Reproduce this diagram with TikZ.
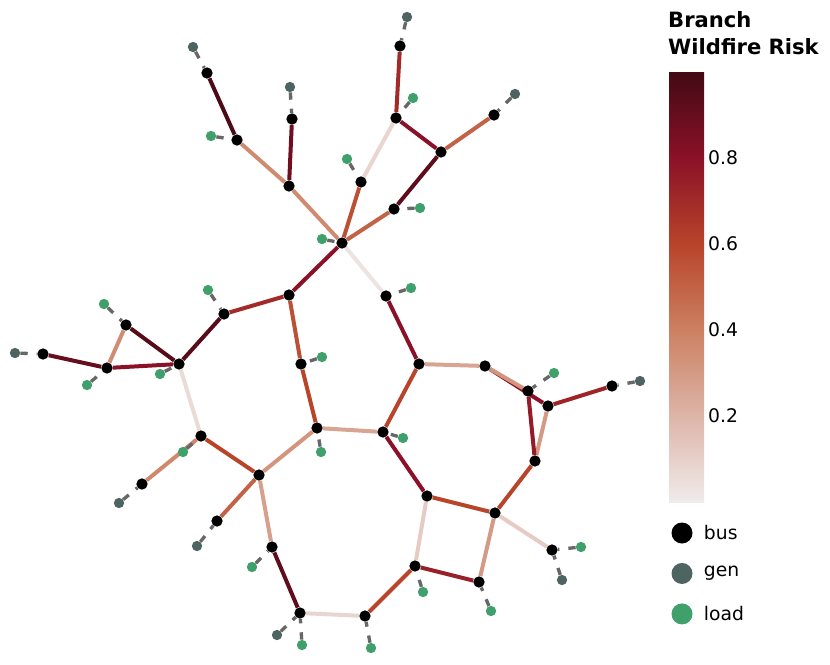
\documentclass[tikz,border=0pt]{standalone}
\usepackage{fontspec}
\setmainfont{DejaVu Sans}
\usepackage{xcolor}
\usepackage{tikz}
\usetikzlibrary{positioning}
\definecolor{rk0}{HTML}{F0EBEB}
\definecolor{rk2}{HTML}{DDB5A8}
\definecolor{rk4}{HTML}{CC8062}
\definecolor{rk6}{HTML}{B8442A}
\definecolor{rk8}{HTML}{8B1128}
\definecolor{rk10}{HTML}{420A14}
\definecolor{gencol}{HTML}{4E6462}
\definecolor{loadcol}{HTML}{3FA06B}
\definecolor{tiecol}{HTML}{676767}
\pgfdeclarelayer{bg}
\pgfsetlayers{bg,main}

\begin{document}
\begin{tikzpicture}[
    x=0.03cm, y=-0.03cm,
    busnode/.style={circle, fill=black, inner sep=0pt, minimum size=0.34cm},
    gennode/.style={circle, fill=gencol, inner sep=0pt, minimum size=0.31cm},
    loadnode/.style={circle, fill=loadcol, inner sep=0pt, minimum size=0.31cm},
    brline/.style={line width=0.12cm},
    tieline/.style={line width=0.1cm, color=tiecol, dash pattern=on 0.22cm off 0.27cm},
    ticklbl/.style={font=\fontsize{16}{19}\selectfont, anchor=west, inner sep=0pt},
    keyitem/.style={circle, inner sep=0pt, minimum size=0.63cm},
    keylbl/.style={font=\fontsize{16}{19}\selectfont, inner sep=0pt}
]
\useasboundingbox (0,0) rectangle (830,665);

\node[busnode] (b1) at (207,73) {};
\node[busnode] (b2) at (237,140) {};
\node[busnode] (b3) at (292,119) {};
\node[busnode] (b4) at (289,186) {};
\node[busnode] (b5) at (289,295) {};
\node[busnode] (b6) at (224,314) {};
\node[busnode] (b7) at (126,325) {};
\node[busnode] (b8) at (400,46) {};
\node[busnode] (b9) at (396,118) {};
\node[busnode] (b10) at (441,152) {};
\node[busnode] (b11) at (494,115) {};
\node[busnode] (b12) at (361,182) {};
\node[busnode] (b13) at (394,209) {};
\node[busnode] (b14) at (342,243) {};
\node[busnode] (b15) at (386,296) {};
\node[busnode] (b16) at (43,354) {};
\node[busnode] (b17) at (107,368) {};
\node[busnode] (b18) at (179,364) {};
\node[busnode] (b19) at (301,364) {};
\node[busnode] (b20) at (317,428) {};
\node[busnode] (b21) at (201,436) {};
\node[busnode] (b22) at (142,484) {};
\node[busnode] (b23) at (259,475) {};
\node[busnode] (b24) at (217,521) {};
\node[busnode] (b25) at (272,547) {};
\node[busnode] (b26) at (300,613) {};
\node[busnode] (b27) at (419,364) {};
\node[busnode] (b28) at (485,366) {};
\node[busnode] (b29) at (528,391) {};
\node[busnode] (b30) at (548,406) {};
\node[busnode] (b31) at (612,386) {};
\node[busnode] (b32) at (535,461) {};
\node[busnode] (b33) at (383,432) {};
\node[busnode] (b34) at (427,496) {};
\node[busnode] (b35) at (495,513) {};
\node[busnode] (b36) at (552,550) {};
\node[busnode] (b37) at (415,566) {};
\node[busnode] (b38) at (479,582) {};
\node[busnode] (b39) at (365,616) {};

\node[gennode] (g1) at (193,47) {};
\node[gennode] (g2) at (290,87) {};
\node[gennode] (g3) at (407,17) {};
\node[gennode] (g4) at (515,94) {};
\node[gennode] (g5) at (15,353) {};
\node[gennode] (g6) at (119,503) {};
\node[gennode] (g7) at (197,546) {};
\node[gennode] (g8) at (277,635) {};
\node[gennode] (g9) at (640,381) {};
\node[gennode] (g10) at (562,580) {};

\node[loadnode] (l1) at (211,136) {};
\node[loadnode] (l2) at (208,290) {};
\node[loadnode] (l3) at (104,304) {};
\node[loadnode] (l4) at (322,239) {};
\node[loadnode] (l5) at (347,159) {};
\node[loadnode] (l6) at (413,98) {};
\node[loadnode] (l7) at (420,208) {};
\node[loadnode] (l8) at (411,288) {};
\node[loadnode] (l9) at (87,385) {};
\node[loadnode] (l10) at (160,374) {};
\node[loadnode] (l11) at (322,357) {};
\node[loadnode] (l12) at (321,452) {};
\node[loadnode] (l13) at (183,452) {};
\node[loadnode] (l14) at (252,567) {};
\node[loadnode] (l15) at (302,645) {};
\node[loadnode] (l16) at (554,373) {};
\node[loadnode] (l17) at (403,438) {};
\node[loadnode] (l18) at (581,547) {};
\node[loadnode] (l19) at (423,592) {};
\node[loadnode] (l20) at (491,611) {};
\node[loadnode] (l21) at (371,648) {};

\begin{pgfonlayer}{bg}
\draw[brline, color=rk10!85!rk8] (b1) -- (b2);
\draw[brline, color=rk4!80!rk2] (b2) -- (b4);
\draw[brline, color=rk8!60!rk10] (b3) -- (b4);
\draw[brline, color=rk4!80!rk2] (b4) -- (b14);
\draw[brline, color=rk8] (b14) -- (b5);
\draw[brline, color=rk8!50!rk6] (b5) -- (b6);
\draw[brline, color=rk10!70!rk8] (b6) -- (b18);
\draw[brline, color=rk10!70!rk8] (b7) -- (b18);
\draw[brline, color=rk4!75!rk2] (b7) -- (b17);
\draw[brline, color=rk8] (b17) -- (b18);
\draw[brline, color=rk8!50!rk10] (b16) -- (b17);
\draw[brline, color=rk2!30!rk0] (b18) -- (b21);
\draw[brline, color=rk6] (b21) -- (b23);
\draw[brline, color=rk4!85!rk2] (b21) -- (b22);
\draw[brline, color=rk4!60!rk2] (b23) -- (b20);
\draw[brline, color=rk6!50!rk4] (b23) -- (b24);
\draw[brline, color=rk4!40!rk2] (b23) -- (b25);
\draw[brline, color=rk10!60!rk8] (b25) -- (b26);
\draw[brline, color=rk2!40!rk0] (b26) -- (b39);
\draw[brline, color=rk6] (b39) -- (b37);
\draw[brline, color=rk2!60!rk0] (b37) -- (b34);
\draw[brline, color=rk8!70!rk6] (b37) -- (b38);
\draw[brline, color=rk4!50!rk2] (b38) -- (b35);
\draw[brline, color=rk6] (b34) -- (b35);
\draw[brline, color=rk2!60!rk0] (b35) -- (b36);
\draw[brline, color=rk6] (b35) -- (b32);
\draw[brline, color=rk4!50!rk2] (b32) -- (b30);
\draw[brline, color=rk8!80!rk6] (b32) -- (b29);
\draw[brline, color=rk8] (b28) -- (b30);
\draw[brline, color=rk4!60!rk2] (b28) -- (b29);
\draw[brline, color=rk6!40!rk8] (b30) -- (b31);
\draw[brline, color=rk2!70!rk4] (b27) -- (b28);
\draw[brline, color=rk6] (b27) -- (b33);
\draw[brline, color=rk8] (b27) -- (b15);
\draw[brline, color=rk2!70!rk4] (b33) -- (b20);
\draw[brline, color=rk8] (b33) -- (b34);
\draw[brline, color=rk6] (b19) -- (b20);
\draw[brline, color=rk6!80!rk4] (b19) -- (b5);
\draw[brline, color=rk0!85!rk2] (b14) -- (b15);
\draw[brline, color=rk6!80!rk4] (b14) -- (b12);
\draw[brline, color=rk2!40!rk0] (b12) -- (b9);
\draw[brline, color=rk6!50!rk4] (b14) -- (b13);
\draw[brline, color=rk10!60!rk8] (b13) -- (b10);
\draw[brline, color=rk8] (b9) -- (b10);
\draw[brline, color=rk8!50!rk6] (b8) -- (b9);
\draw[brline, color=rk6!50!rk4] (b10) -- (b11);

\draw[tieline] (g1) -- (b1);
\draw[tieline] (g2) -- (b3);
\draw[tieline] (g3) -- (b8);
\draw[tieline] (g4) -- (b11);
\draw[tieline] (g5) -- (b16);
\draw[tieline] (g6) -- (b22);
\draw[tieline] (g7) -- (b24);
\draw[tieline] (g8) -- (b26);
\draw[tieline] (g9) -- (b31);
\draw[tieline] (g10) -- (b36);
\draw[tieline] (l1) -- (b2);
\draw[tieline] (l2) -- (b6);
\draw[tieline] (l3) -- (b7);
\draw[tieline] (l4) -- (b14);
\draw[tieline] (l5) -- (b12);
\draw[tieline] (l6) -- (b9);
\draw[tieline] (l7) -- (b13);
\draw[tieline] (l8) -- (b15);
\draw[tieline] (l9) -- (b17);
\draw[tieline] (l10) -- (b18);
\draw[tieline] (l11) -- (b19);
\draw[tieline] (l12) -- (b20);
\draw[tieline] (l13) -- (b21);
\draw[tieline] (l14) -- (b25);
\draw[tieline] (l15) -- (b26);
\draw[tieline] (l16) -- (b29);
\draw[tieline] (l17) -- (b33);
\draw[tieline] (l18) -- (b36);
\draw[tieline] (l19) -- (b37);
\draw[tieline] (l20) -- (b38);
\draw[tieline] (l21) -- (b39);
\end{pgfonlayer}

\node[anchor=north west, align=left, inner sep=0pt,
    font=\fontsize{18}{23}\selectfont\bfseries] (title) at (668,11) {Branch\\Wildfire Risk};
\shade[bottom color=rk0, top color=rk2] (669,502) rectangle (704,416);
\shade[bottom color=rk2, top color=rk4] (669,416) rectangle (704,330);
\shade[bottom color=rk4, top color=rk6] (669,330) rectangle (704,244);
\shade[bottom color=rk6, top color=rk8] (669,244) rectangle (704,158);
\shade[bottom color=rk8, top color=rk10] (669,158) rectangle (704,72);
\node[ticklbl] (t8) at (708,158) {0.8};
\node[ticklbl] (t6) at (708,244) {0.6};
\node[ticklbl] (t4) at (708,330) {0.4};
\node[ticklbl] (t2) at (708,416) {0.2};

\node[keyitem, fill=black] (kbus) at (682,533) {};
\node[keyitem, fill=gencol, below=0.57cm of kbus] (kgen) {};
\node[keyitem, fill=loadcol, below=0.57cm of kgen] (kload) {};
\node[keylbl, right=0.33cm of kbus] {bus};
\node[keylbl, right=0.33cm of kgen] {gen};
\node[keylbl, right=0.33cm of kload] {load};
\end{tikzpicture}
\end{document}
